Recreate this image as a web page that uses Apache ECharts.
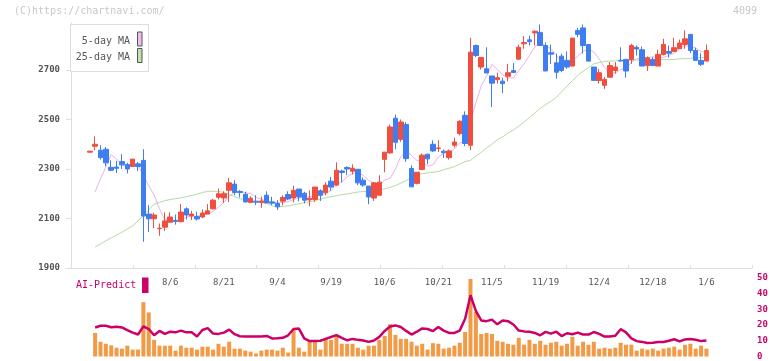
<!DOCTYPE html>
<html><head><meta charset="utf-8">
<script src="https://cdn.jsdelivr.net/npm/echarts@6/dist/echarts.min.js"></script>
<style>html,body{margin:0;padding:0;background:#fff}#c{width:772px;height:361px}</style>
</head><body><div id="c"></div>
<script>
const dates = ['7/15','7/16','7/17','7/18','7/22','7/23','7/24','7/25','7/28','7/29','7/30','7/31',
'8/1','8/4','8/5','8/6','8/7','8/8','8/12','8/13','8/14','8/15','8/18','8/19','8/20','8/21','8/22','8/25','8/26','8/27','8/28','8/29',
'9/1','9/2','9/3','9/4','9/5','9/8','9/9','9/10','9/11','9/12','9/16','9/17','9/18','9/19','9/22','9/24','9/25','9/26','9/29','9/30',
'10/1','10/2','10/3','10/6','10/7','10/8','10/9','10/10','10/14','10/15','10/16','10/17','10/20','10/21','10/22','10/23','10/24','10/27','10/28','10/29','10/30','10/31',
'11/4','11/5','11/6','11/7','11/10','11/11','11/12','11/13','11/14','11/17','11/18','11/19','11/20','11/21','11/25','11/26','11/27','11/28',
'12/1','12/2','12/3','12/4','12/5','12/8','12/9','12/10','12/11','12/12','12/15','12/16','12/17','12/18','12/19','12/22','12/23','12/24','12/25','12/26','12/29','12/30',
'1/5','1/6'];
const tickLabels = ['8/6','8/21','9/4','9/19','10/6','10/21','11/5','11/19','12/4','12/18','1/6'];
const priceTicks = [1900,2100,2300,2500,2700];

const opens = [2368,2392,2376,2380,2307,2308,2330,2318,2310,2321, 2335,2118,2099,2059,2065,2085,2092,2087,2139,2110, 2108,2106,2118,2139,2186,2183,2214,2239,2209,2198, 2165,2170,2165,2194,2167,2161,2170,2197,2183,2219, 2202,2175,2177,2212,2204,2251,2235,2292,2306,2291, 2299,2255,2231,2183,2194,2339,2365,2505,2420,2480, 2302,2242,2298,2360,2400,2383,2372,2346,2396,2443, 2517,2396,2799,2712,2705,2676,2661,2655,2675,2698, 2744,2806,2822,2850,2852,2799,2770,2729,2756,2739, 2716,2860,2870,2803,2712,2658,2638,2671,2698,2739, 2743,2742,2792,2782,2718,2743,2716,2763,2775,2775, 2786,2803,2844,2779,2739,2736];
const closes = [2372,2400,2346,2325,2295,2303,2317,2300,2340,2310, 2110,2099,2114,2061,2090,2106,2088,2126,2114,2118, 2098,2122,2131,2174,2200,2200,2244,2205,2205,2167, 2182,2166,2171,2163,2162,2147,2185,2179,2214,2187, 2174,2182,2227,2194,2235,2227,2295,2286,2300,2303, 2244,2235,2187,2244,2247,2368,2470,2408,2490,2342, 2228,2287,2356,2341,2373,2385,2366,2373,2409,2493, 2403,2772,2759,2751,2688,2647,2669,2645,2689,2690, 2792,2811,2815,2857,2799,2696,2764,2691,2698,2712, 2829,2844,2799,2736,2658,2689,2662,2718,2712,2736, 2696,2799,2785,2716,2750,2718,2763,2803,2768,2790, 2809,2826,2779,2739,2723,2779];
const lows = [2366,2376,2338,2311,2292,2284,2300,2282,2310,2292, 2006,2046,2061,2030,2050,2085,2075,2085,2096,2094, 2092,2102,2118,2137,2177,2163,2167,2194,2185,2165, 2165,2154,2143,2161,2154,2134,2153,2174,2166,2170, 2161,2150,2167,2171,2194,2212,2232,2246,2275,2278, 2235,2228,2158,2171,2194,2287,2362,2380,2410,2329, 2228,2238,2295,2319,2369,2369,2345,2338,2387,2436, 2392,2376,2752,2702,2688,2550,2645,2607,2654,2688, 2741,2786,2799,2799,2799,2696,2725,2665,2691,2705, 2716,2833,2766,2736,2658,2645,2624,2671,2685,2736, 2669,2725,2759,2716,2696,2718,2716,2759,2750,2775, 2786,2786,2768,2739,2716,2736];
const highs = [2374,2432,2396,2389,2335,2333,2360,2325,2340,2329, 2380,2154,2123,2080,2125,2125,2116,2158,2145,2131, 2127,2137,2158,2179,2221,2210,2264,2255,2214,2208, 2190,2194,2188,2210,2188,2174,2194,2210,2233,2219, 2208,2214,2228,2218,2246,2268,2327,2298,2311,2319, 2299,2266,2231,2246,2275,2369,2480,2520,2500,2490, 2315,2287,2363,2360,2416,2416,2379,2379,2427,2497, 2533,2830,2803,2752,2792,2676,2689,2669,2725,2728, 2803,2837,2839,2860,2884,2812,2803,2766,2766,2775, 2829,2870,2884,2803,2712,2705,2671,2732,2732,2792, 2743,2806,2799,2795,2755,2752,2782,2826,2799,2830, 2823,2860,2844,2790,2768,2803];
const ma5 = [null,2208,2260,2308,2358, 2340,2317,2308,2311,2314, 2275,2232,2195,2139,2095, 2094,2092,2094,2105,2110, 2109,2116,2117,2129,2145, 2165,2190,2205,2211,2204, 2201,2185,2178,2170,2169, 2162,2166,2167,2177,2182, 2188,2187,2197,2193,2202, 2213,2236,2247,2269,2282, 2286,2274,2254,2243,2231, 2256,2262,2300,2350,2370, 2355,2335,2330,2311,2317, 2348,2364,2368,2381,2405, 2409,2490,2567,2636,2675, 2723,2703,2680,2668,2668, 2697,2725,2759,2793,2815, 2796,2786,2761,2730,2712, 2739,2755,2776,2784,2773, 2745,2709,2693,2688,2703, 2705,2732,2746,2746,2749, 2754,2746,2750,2760,2768, 2787,2799,2794,2789,2775, 2769];
const ma25 = [null,1985,1997,2010,2022, 2033,2045,2058,2070,2090, 2112,2135,2158,2165,2172, 2177,2180,2184,2188,2193, 2198,2205,2210,2210,2210, 2205,2198,2188,2180,2177, 2172,2168,2165,2160,2152, 2147,2149,2151,2155,2160, 2164,2168,2172,2178,2184, 2188,2192,2196,2199,2203, 2207,2209,2210,2212,2215, 2220,2226,2233,2243,2253, 2266,2276,2281,2284,2287, 2290,2297,2303,2310,2320, 2330,2335,2352,2367,2385, 2400,2418,2430,2445,2458, 2473,2490,2508,2527,2545, 2560,2573,2590,2612,2635, 2657,2678,2695,2710,2725, 2730,2735,2736,2737,2739, 2739,2740,2740,2740,2741, 2742,2742,2742,2742,2743, 2745,2746,2747,2749,2750, 2752];
const volume = [null,15.0,9.4,8.1,7.1,5.6,5.0,6.9,4.4,4.4, 34.6,28.1,10.6,6.9,6.9,6.9,3.75,6.9,5.6,5.6, 4.4,6.25,6.25,4.4,8.1,6.25,9.4,5.0,5.0,3.75, 3.1,1.9,3.75,4.4,4.4,3.75,5.6,2.5,16.9,5.6, 3.1,9.4,9.4,4.4,11.9,10.6,13.1,8.1,8.1,8.1, 5.6,4.4,6.9,6.9,10.6,13.1,20.6,13.75,11.25,11.25, 9.4,6.9,8.1,4.4,8.5,8.1,5.0,5.6,6.9,8.75, 15.6,49.4,28.5,14.4,15,14.4,10,9.4,8.1,7.5, 11.9,7.5,10.6,8.1,10,7.5,8.75,9.4,6.9,8.1, 12.5,6.9,9.4,7.5,9.4,5.0,5.6,5.0,5.6,8.75, 7.5,7.5,3.75,5.0,4.4,5.0,3.75,5.0,5.6,6.25, 4.4,7.5,8.1,5.0,6.9,5.0];
const aiPredict = [null,18.5,19.6,19.6,18.6,19,18.5,16.8,15.2,14, 19.2,17.5,13.5,16.3,14.4,15.8,15.4,16.5,15.4,15.4, 12.7,16.9,18.1,14.6,14.4,15.2,17.1,14.2,12.9,12.7, 12.7,12.7,12.7,13.1,11.5,11.6,11.9,13.5,17.5,17.8, 11.5,9.8,9.8,10,11.2,12.4,13.6,11.9,10.3,11.2, 10.6,10.2,9.3,10.2,12.5,16.3,19.1,19.8,18.8,16.3, 14,15.8,17.9,17.5,16.2,18.8,16.5,15,15,16.5, 24,39,29,23,22.5,23.5,20.5,22.9,22.5,20.4, 16.5,16,15.8,15,13.5,15.7,14.6,15.8,13,14.8, 14.2,15.2,14,14,15.6,14.4,12.7,12.8,13.2,17.4, 15.4,11.5,9.8,9.3,8.6,8.8,9.2,9.2,10,11, 9.6,10.9,11.2,10.7,9.8,10.2];

const PAD_L = 3, PAD_R = 8;
const cats = [];
for (let i = 0; i < PAD_L; i++) cats.push('pl' + i);
dates.forEach(d => cats.push(d));
for (let i = 0; i < PAD_R; i++) cats.push('pr' + i);
const labelSet = new Set(tickLabels);

const candleData = dates.map((d, j) => [j + PAD_L, opens[j], closes[j], lows[j], highs[j]]);
const pairs = arr => arr.map((v, j) => [j + PAD_L, v]).filter(p => p[1] != null);

const mono = 'DejaVu Sans Mono';
const chart = echarts.init(document.getElementById('c'));
chart.setOption({
  animation: false,
  backgroundColor: '#fff',
  grid: [
    {left: 71, top: 23, width: 681, height: 245},
    {left: 71, top: 278, width: 681, height: 80}
  ],
  xAxis: [
    {type: 'category', gridIndex: 0, data: cats, boundaryGap: true, position: 'bottom',
     axisLine: {show: false}, axisTick: {show: false}, splitLine: {show: false},
     axisLabel: {interval: (i, v) => labelSet.has(v), margin: 10, color: '#555', fontSize: 9, fontFamily: mono}},
    {type: 'value', gridIndex: 0, min: 0, max: 11, interval: 1, position: 'bottom',
     axisLine: {show: true, onZero: false, lineStyle: {color: '#dedede', width: 1}},
     axisTick: {show: true, inside: true, length: 3, lineStyle: {color: '#dedede'}},
     axisLabel: {show: false}, splitLine: {show: false}},
    {type: 'category', gridIndex: 1, data: cats, boundaryGap: true, show: false}
  ],
  yAxis: [
    {type: 'value', gridIndex: 0, min: 1900, max: 2890, position: 'left',
     axisLine: {show: true, lineStyle: {color: '#dedede'}},
     axisTick: {show: true, length: 5, customValues: priceTicks, lineStyle: {color: '#dedede'}},
     axisLabel: {customValues: priceTicks, formatter: v => String(v), margin: 11, color: '#555', fontSize: 9, fontWeight: 'bold', fontFamily: mono},
     splitLine: {show: false}},
    {type: 'value', gridIndex: 1, min: 0, max: 50, interval: 10, position: 'right',
     axisLine: {show: false}, axisTick: {show: false}, splitLine: {show: false},
     axisLabel: {margin: 5, color: '#cc0066', fontSize: 9, fontWeight: 'bold', fontFamily: mono}}
  ],
  series: [
    {name: '5-day MA', type: 'line', xAxisIndex: 0, yAxisIndex: 0, data: pairs(ma5), showSymbol: false,
     lineStyle: {color: '#e9b2ea', width: 1}, z: 1},
    {name: '25-day MA', type: 'line', xAxisIndex: 0, yAxisIndex: 0, data: pairs(ma25), showSymbol: false,
     lineStyle: {color: '#b4dba4', width: 1}, z: 1},
    {name: 'price', type: 'candlestick', xAxisIndex: 0, yAxisIndex: 0, data: candleData,
     encode: {x: 0, y: [1, 2, 3, 4]}, barWidth: 5, z: 3,
     itemStyle: {color: '#f04e3e', color0: '#3f7ef0', borderColor: '#f04e3e', borderColor0: '#3f7ef0', borderWidth: 1}},
    {name: 'volume', type: 'bar', xAxisIndex: 2, yAxisIndex: 1, data: pairs(volume), barWidth: 4,
     itemStyle: {color: '#f29a45'}, z: 1},
    {name: 'AI-Predict', type: 'line', xAxisIndex: 2, yAxisIndex: 1, data: pairs(aiPredict), showSymbol: false,
     lineStyle: {color: '#cc0066', width: 2.5}, z: 3}
  ],
  graphic: [
    {type: 'text', left: 14, top: 6, style: {text: '(C)https://chartnavi.com/', fill: '#c8c8c8', font: '10px ' + mono}},
    {type: 'text', left: 733, top: 6, style: {text: '4099', fill: '#c8c8c8', font: '10px ' + mono}},
    {type: 'rect', shape: {x: 70.5, y: 24.5, width: 78, height: 47}, style: {fill: '#fff', stroke: '#dddddd', lineWidth: 1}, z: 10},
    {type: 'text', x: 130, y: 41.5, style: {text: '5-day MA', fill: '#555', font: '10px ' + mono, align: 'right', verticalAlign: 'middle'}, z: 11},
    {type: 'text', x: 130, y: 57.5, style: {text: '25-day MA', fill: '#555', font: '10px ' + mono, align: 'right', verticalAlign: 'middle'}, z: 11},
    {type: 'rect', shape: {x: 137.5, y: 32, width: 4.5, height: 14}, style: {fill: '#efbdef', stroke: '#555', lineWidth: 1}, z: 11},
    {type: 'rect', shape: {x: 137.5, y: 48.5, width: 4.5, height: 14}, style: {fill: '#bfe0b0', stroke: '#555', lineWidth: 1}, z: 11},
    {type: 'text', x: 76, y: 285.5, style: {text: 'AI-Predict', fill: '#cc0066', font: '10px ' + mono, verticalAlign: 'middle'}, z: 11},
    {type: 'rect', shape: {x: 142, y: 277.5, width: 6.5, height: 15.5}, style: {fill: '#cc0066'}, z: 11}
  ]
});
</script></body></html>
